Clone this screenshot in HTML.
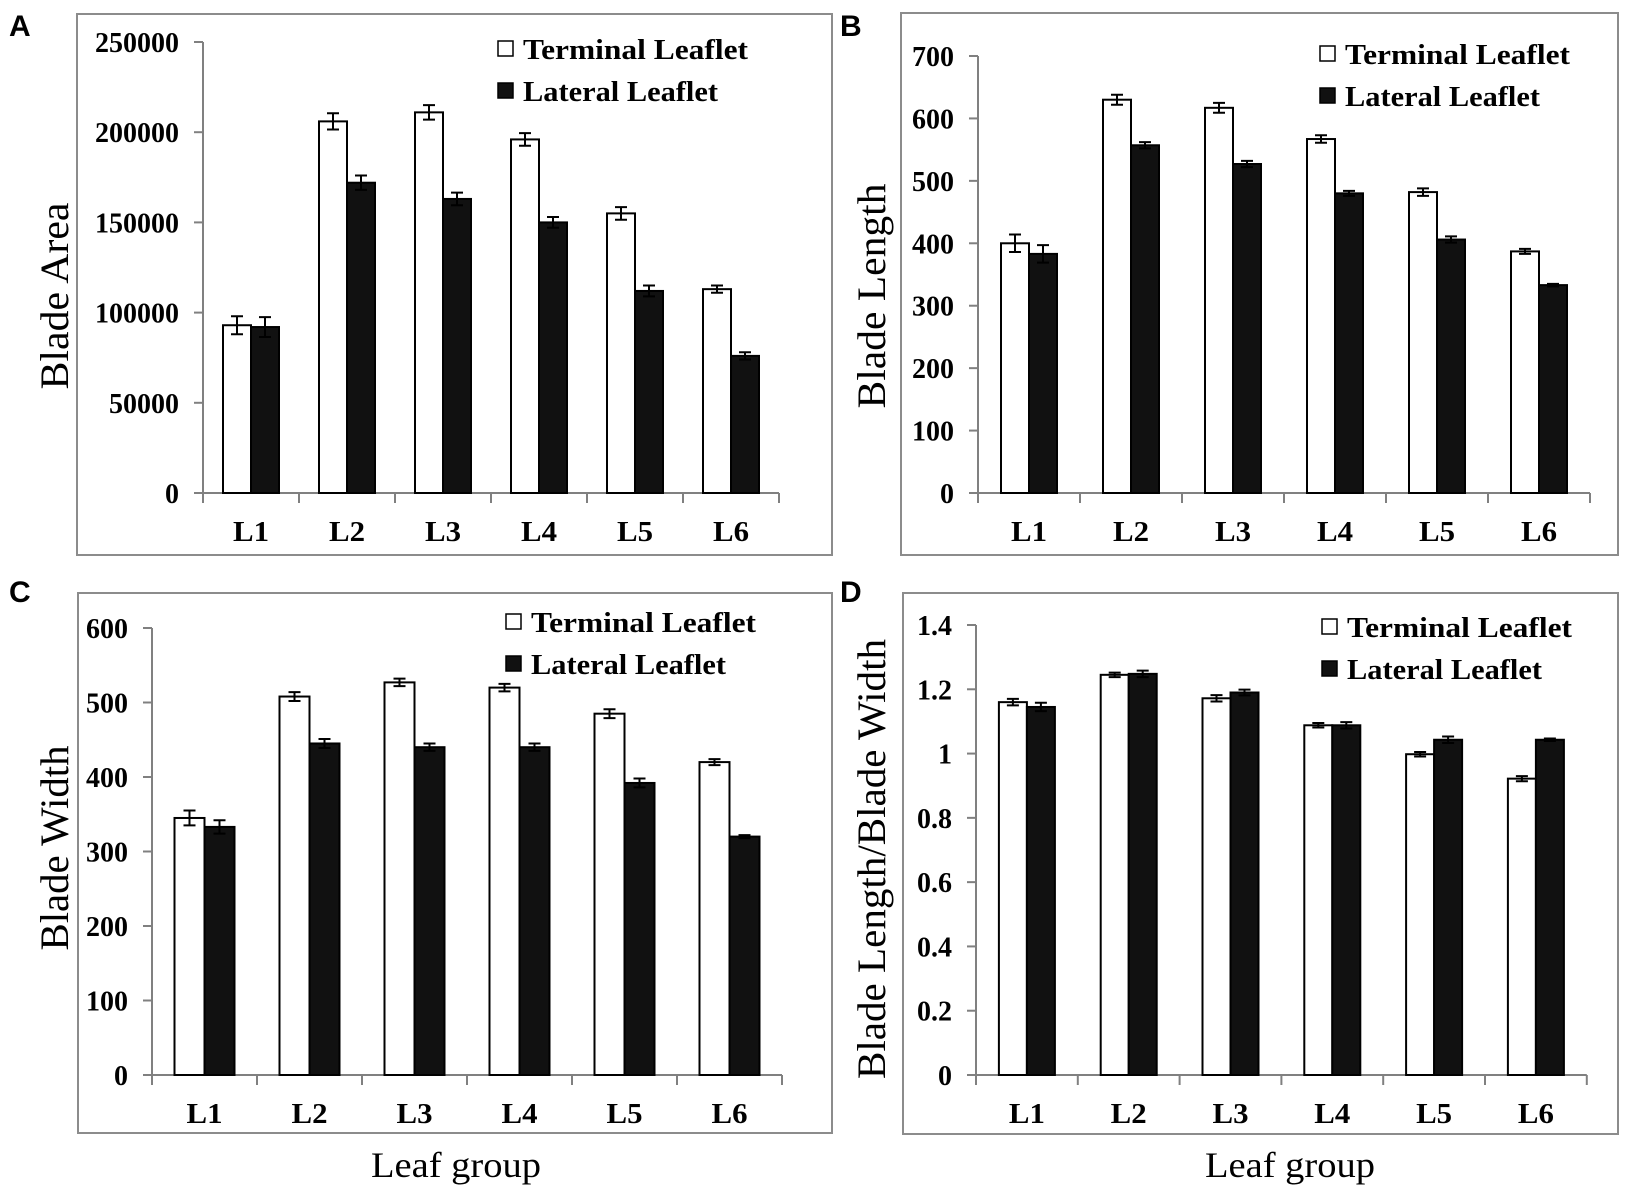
<!DOCTYPE html>
<html><head><meta charset="utf-8">
<style>
html,body{margin:0;padding:0;background:#fff;}
svg{display:block;}
text{font-family:"Liberation Serif",serif;fill:#000;}
.tick{font-size:28px;font-weight:bold;}
.leg{font-size:28px;font-weight:bold;}
.ttl{font-size:40px;}
.letter{font-family:"Liberation Sans",sans-serif;font-size:30px;font-weight:bold;}
</style></head>
<body>
<svg id="fig" width="1631" height="1198" viewBox="0 0 1631 1198" xmlns="http://www.w3.org/2000/svg"></svg>
<script>
const categories = ["L1","L2","L3","L4","L5","L6"];
const areaTerminal = [93000,206000,211000,196000,155000,113000];
const areaTerminalErr = [5000,4500,4000,3500,3500,2000];
const areaLateral = [92000,172000,163000,150000,112000,76000];
const areaLateralErr = [5500,4000,3500,3000,3000,2000];
const areaTicks = ["0","50000","100000","150000","200000","250000"];
const lenTerminal = [400,630,617,567,482,387];
const lenTerminalErr = [14,8,8,6,6,4];
const lenLateral = [383,557,527,480,406,333];
const lenLateralErr = [14,5,5,4,5,2];
const lenTicks = ["0","100","200","300","400","500","600","700"];
const widTerminal = [345,508,527,520,485,420];
const widTerminalErr = [10,6,5,5,6,4];
const widLateral = [333,445,440,440,392,320];
const widLateralErr = [9,6,5,5,6,2];
const widTicks = ["0","100","200","300","400","500","600"];
const ratioTerminal = [1.16,1.245,1.172,1.088,0.998,0.922];
const ratioTerminalErr = [0.01,0.007,0.01,0.007,0.007,0.008];
const ratioLateral = [1.145,1.248,1.19,1.088,1.043,1.043];
const ratioLateralErr = [0.013,0.01,0.009,0.01,0.01,0.004];
const ratioTicks = ["0","0.2","0.4","0.6","0.8","1","1.2","1.4"];

const NS="http://www.w3.org/2000/svg";
const svg=document.getElementById('fig');
function mk(tag,attrs,parent,txt){const e=document.createElementNS(NS,tag);for(const k in attrs)e.setAttribute(k,attrs[k]);if(txt!==undefined)e.textContent=txt;(parent||svg).appendChild(e);return e;}

function panel(cfg){
  const g=mk('g',{});
  
  
  const frame=mk('rect',{x:cfg.box[0],y:cfg.box[1],width:cfg.box[2]-cfg.box[0],height:cfg.box[3]-cfg.box[1],fill:'none',stroke:'#8c8c8c','stroke-width':2},g);
  
  
  const lt=mk('text',{x:cfg.letter[0],y:cfg.letter[1],class:'letter'},g,cfg.letterText);
  
  
  const max=cfg.max;
  const y=v=>cfg.zero-(v/max)*(cfg.zero-cfg.top);
  const x0=cfg.axisX, sp=cfg.spacing, bw=cfg.bw;
  const xEnd=x0+sp*categories.length;
  const ya=mk('line',{x1:x0,y1:cfg.top,x2:x0,y2:cfg.zero,stroke:'#808080','stroke-width':2},g);
  
  
  cfg.ticks.forEach((t,i)=>{
    const v=max*i/(cfg.ticks.length-1);
    const yy=y(v);
    mk('line',{x1:x0-9,y1:yy,x2:x0,y2:yy,stroke:'#808080','stroke-width':2},g);
    const tl=mk('text',{x:x0-24,y:yy+10,class:'tick','text-anchor':'end'},g,t);
    
    
  });
  const xa=mk('line',{x1:x0,y1:cfg.zero,x2:xEnd,y2:cfg.zero,stroke:'#808080','stroke-width':2},g);
  
  
  for(let i=0;i<=categories.length;i++){
    mk('line',{x1:x0+sp*i,y1:cfg.zero,x2:x0+sp*i,y2:cfg.zero+10,stroke:'#808080','stroke-width':2},g);
  }
  categories.forEach((c,i)=>{
    const cx=x0+sp*(i+0.5);
    const xl=mk('text',{x:cx,y:cfg.zero+48,class:'tick','text-anchor':'middle',textLength:36,lengthAdjust:'spacingAndGlyphs'},g,c);
    
    
    [[cfg.t,cfg.te,'#fff',cx-bw,'terminal'],[cfg.l,cfg.le,'#111',cx,'lateral']].forEach(s=>{
      const v=s[0][i], e=s[1][i];
      const r=mk('rect',{x:s[3],y:y(v),width:bw,height:cfg.zero-y(v),fill:s[2],stroke:'#000','stroke-width':2},g);
      
      
      const mx=s[3]+bw/2;
      const eb=mk('path',{d:`M${mx},${y(v+e)}V${y(v-e)}M${mx-6},${y(v+e)}H${mx+6}M${mx-6},${y(v-e)}H${mx+6}`,stroke:'#000','stroke-width':2,fill:'none'},g);
      
      
    });
  });
  const [lx,ly]=cfg.legend;
  const l1=mk('rect',{x:lx,y:ly-18,width:15,height:15,fill:'#fff',stroke:'#000','stroke-width':1.5},g);
  
  
  const t1=mk('text',{x:lx+25,y:ly,class:'leg',textLength:225,lengthAdjust:'spacingAndGlyphs'},g,'Terminal Leaflet');
  
  
  const l2=mk('rect',{x:lx,y:ly+24,width:15,height:15,fill:'#111',stroke:'#000','stroke-width':1.5},g);
  
  
  const t2=mk('text',{x:lx+25,y:ly+42,class:'leg',textLength:195,lengthAdjust:'spacingAndGlyphs'},g,'Lateral Leaflet');
  
  
  const yt=mk('text',{x:0,y:0,class:'ttl','text-anchor':'middle',transform:`translate(${cfg.title[0]},${cfg.title[1]}) rotate(-90)`,textLength:cfg.titleLen,lengthAdjust:'spacingAndGlyphs'},g,cfg.titleText);
  
  
}

panel({id:'a',letterText:'A',letter:[9,36],box:[77,14,832,555],axisX:203,spacing:96,bw:28,top:42,zero:493,max:250000,ticks:areaTicks,
  t:areaTerminal,te:areaTerminalErr,l:areaLateral,le:areaLateralErr,legend:[498,59],title:[68,296],titleText:'Blade Area',titleLen:187});
panel({id:'b',letterText:'B',letter:[840,36],box:[901,13,1618,555],axisX:978,spacing:102,bw:28,top:56,zero:493,max:700,ticks:lenTicks,
  t:lenTerminal,te:lenTerminalErr,l:lenLateral,le:lenLateralErr,legend:[1320,64],title:[885,296],titleText:'Blade Length',titleLen:225});
panel({id:'c',letterText:'C',letter:[9,602],box:[78,593,832,1133],axisX:152,spacing:105,bw:30,top:628,zero:1075,max:600,ticks:widTicks,
  t:widTerminal,te:widTerminalErr,l:widLateral,le:widLateralErr,legend:[506,632],title:[68,848],titleText:'Blade Width',titleLen:205});
panel({id:'d',letterText:'D',letter:[840,602],box:[903,593,1618,1134],axisX:976,spacing:101.8,bw:28,top:625,zero:1075,max:1.4,ticks:ratioTicks,
  t:ratioTerminal,te:ratioTerminalErr,l:ratioLateral,le:ratioLateralErr,legend:[1322,637],title:[885,859],titleText:'Blade Length/Blade Width',titleLen:440});

const x1=mk('text',{x:456,y:1177,'text-anchor':'middle',style:'font-size:36px',textLength:170,lengthAdjust:'spacingAndGlyphs'},svg,'Leaf group');


const x2=mk('text',{x:1290,y:1177,'text-anchor':'middle',style:'font-size:36px',textLength:170,lengthAdjust:'spacingAndGlyphs'},svg,'Leaf group');


</script>
</body></html>
